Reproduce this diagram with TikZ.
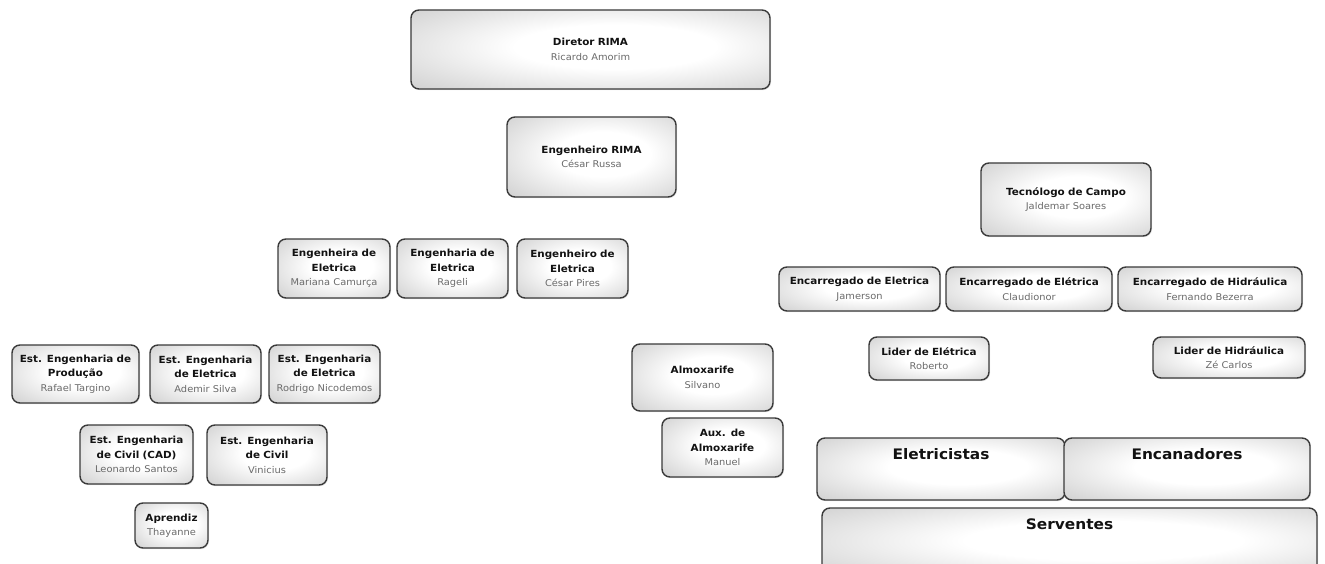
\documentclass[tikz,border=0pt]{standalone}
\usepackage{fontspec}
\setmainfont{DejaVu Sans}[FakeStretch=1.06]
\usetikzlibrary{shadows}
\definecolor{bordergray}{HTML}{3A3A3A}
\definecolor{titlecol}{HTML}{121212}
\definecolor{namecol}{HTML}{6A6A6A}
\definecolor{edgefill}{HTML}{B9B9B9}
\pgfdeclareradialshading{orgshade}{\pgfpoint{4bp}{2bp}}{color(0bp)=(white); color(14bp)=(white); color(50bp)=(edgefill); color(100bp)=(edgefill)}
\newcommand{\ttl}[1]{{\fontsize{9.8}{14.5}\selectfont\bfseries\color{titlecol}#1}}
\newcommand{\nme}[1]{{\fontsize{9.3}{14.5}\selectfont\color{namecol}#1}}
\newcommand{\obox}[6]{%
  \node[orgbox, minimum width={(#4-#2)*1pt}, minimum height={(#5-#3)*1pt},
        text width={(#4-#2-6)*1pt}] (#1) at ({(#2+#4)/2},{(#3+#5)/2}) {#6};}
\begin{document}
\begin{tikzpicture}[x=1pt,y=-1pt,
  orgbox/.style={draw=bordergray, line width=1.4pt, rounded corners=8pt,
    shading=orgshade, inner sep=0pt, align=center,
    font=\fontsize{9.8}{14.5}\selectfont,
    drop shadow={opacity=0.2, shadow xshift=1pt, shadow yshift=-1.2pt}},
  bigtext/.style={font=\fontsize{14.5}{17}\selectfont\bfseries, text=titlecol, inner sep=0pt}]
\useasboundingbox (0,0) rectangle (1325,564);
\clip (0,0) rectangle (1325,564);
\fill[white] (0,0) rectangle (1325,564);
% top
\obox{dir}{411}{10}{770}{89}{\ttl{Diretor RIMA}\\\nme{Ricardo Amorim}}
\obox{engr}{507}{117}{676}{197}{\ttl{Engenheiro RIMA}\\\nme{César Russa}}
% engineers
\obox{e1}{278}{239}{390}{298}{\ttl{Engenheira de}\\\ttl{Eletrica}\\\nme{Mariana Camurça}}
\obox{e2}{397}{239}{508}{298}{\ttl{Engenharia de}\\\ttl{Eletrica}\\\nme{Rageli}}
\obox{e3}{517}{239}{628}{298}{\ttl{Engenheiro de}\\\ttl{Eletrica}\\\nme{César Pires}}
% students
\obox{s1}{12}{345}{139}{403}{\ttl{Est. Engenharia de}\\\ttl{Produção}\\\nme{Rafael Targino}}
\obox{s2}{150}{345}{261}{403}{\ttl{Est. Engenharia}\\\ttl{de Eletrica}\\\nme{Ademir Silva}}
\obox{s3}{269}{345}{380}{403}{\ttl{Est. Engenharia}\\\ttl{de Eletrica}\\\nme{Rodrigo Nicodemos}}
\obox{c1}{80}{425}{193}{484}{\ttl{Est. Engenharia}\\\ttl{de Civil (CAD)}\\\nme{Leonardo Santos}}
\obox{c2}{207}{425}{327}{485}{\ttl{Est. Engenharia}\\\ttl{de Civil}\\\nme{Vinicius}}
\obox{apr}{135}{503}{208}{548}{\ttl{Aprendiz}\\\nme{Thayanne}}
% warehouse
\obox{alm}{632}{344}{773}{411}{\ttl{Almoxarife}\\\nme{Silvano}}
\obox{aux}{662}{418}{783}{477}{\ttl{Aux. de}\\\ttl{Almoxarife}\\\nme{Manuel}}
% field
\obox{tec}{981}{163}{1151}{236}{\ttl{Tecnólogo de Campo}\\\nme{Jaldemar Soares}}
\obox{enc1}{779}{267}{940}{311}{\ttl{Encarregado de Eletrica}\\\nme{Jamerson}}
\obox{enc2}{946}{267}{1112}{311}{\ttl{Encarregado de Elétrica}\\\nme{Claudionor}}
\obox{enc3}{1118}{267}{1302}{311}{\ttl{Encarregado de Hidráulica}\\\nme{Fernando Bezerra}}
\obox{lid1}{869}{337}{989}{380}{\ttl{Lider de Elétrica}\\\nme{Roberto}}
\obox{lid2}{1153}{337}{1305}{378}{\ttl{Lider de Hidráulica}\\\nme{Zé Carlos}}
% crews
\obox{elet}{817}{438}{1065}{500}{}
\obox{enca}{1064}{438}{1310}{500}{}
\obox{serv}{822}{508}{1317}{578}{}
\node[bigtext] (eletT) at ([yshift=-17pt]elet.north) {Eletricistas};
\node[bigtext] (encaT) at ([yshift=-17pt]enca.north) {Encanadores};
\node[bigtext] (servT) at ([yshift=-17pt]serv.north) {Serventes};
\end{tikzpicture}
\end{document}
